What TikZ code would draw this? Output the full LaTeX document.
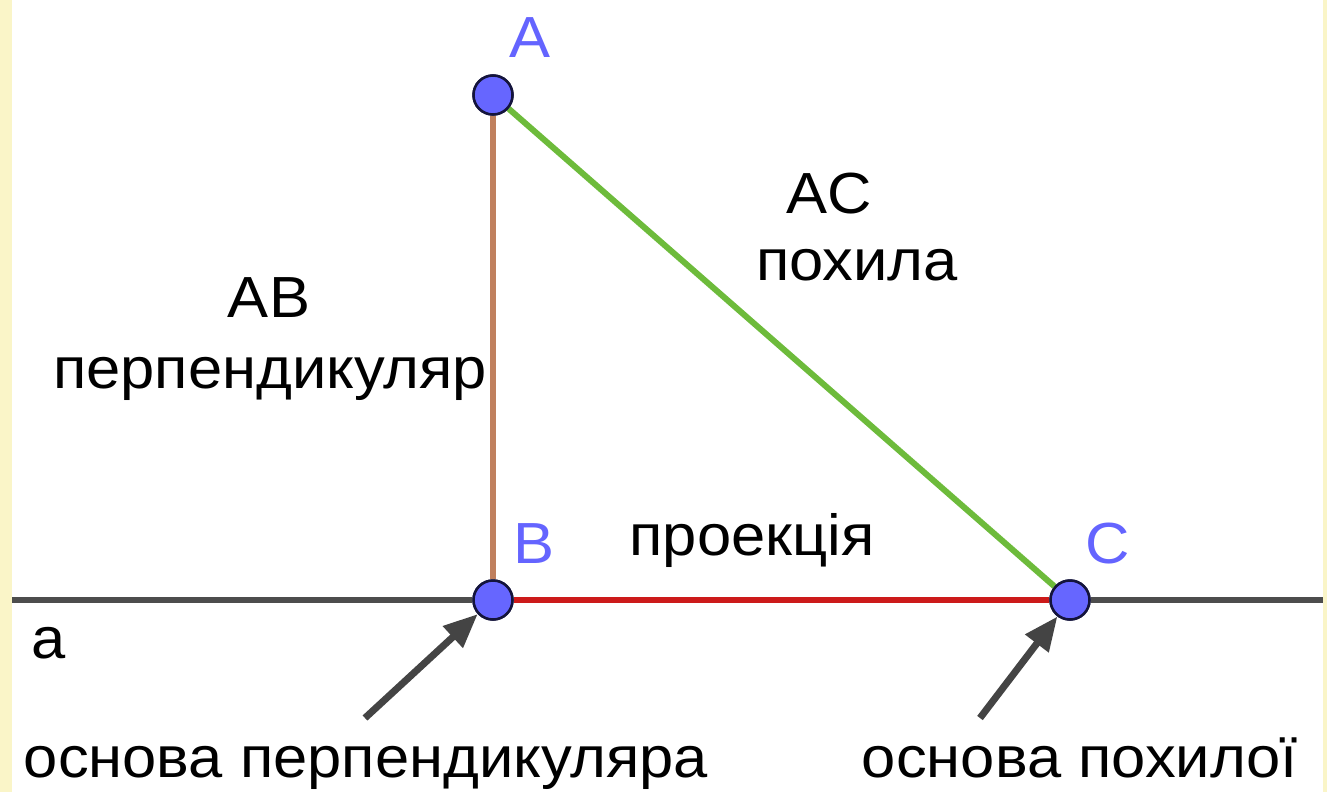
\documentclass[tikz,border=0pt]{standalone}
\usepackage{fontspec}
\setmainfont[FakeStretch=1.06]{Liberation Sans}
\usetikzlibrary{arrows.meta}
\definecolor{ptfill}{RGB}{102,102,255}
\definecolor{ptedge}{RGB}{20,20,60}
\definecolor{lblue}{RGB}{100,100,255}
\definecolor{segbrown}{RGB}{192,128,94}
\definecolor{seggreen}{RGB}{109,187,59}
\definecolor{segred}{RGB}{204,26,26}
\definecolor{linegray}{RGB}{77,77,77}
\definecolor{arrgray}{RGB}{68,68,68}
\definecolor{edgeyellow}{RGB}{250,245,200}
\begin{document}
\begin{tikzpicture}[x=1pt,y=-1pt,
  pt/.style={circle,fill=ptfill,draw=ptedge,line width=2.5pt,minimum size=39pt,inner sep=0pt},
  ptlbl/.style={text=lblue,font=\fontsize{58}{64}\selectfont,inner sep=0pt,anchor=base},
  txt/.style={text=black,font=\fontsize{58}{64}\selectfont,inner sep=0pt,anchor=base},
  seg/.style={line width=6pt},
  pointer/.style={arrgray,line width=7pt,-{Triangle[length=34pt,width=28pt]}}]
\useasboundingbox (0,0) rectangle (1327,792);
\fill[white] (0,0) rectangle (1327,792);
\fill[edgeyellow] (0,0) rectangle (12,792);
\fill[edgeyellow] (1323,0) rectangle (1327,792);
% points
\coordinate (a1) at (12,600);
\coordinate (a2) at (1323,600);
\node[pt] (A) at (493,95) {};
\node[pt] (B) at (493,600) {};
\node[pt] (C) at (1070,600) {};
% line a
\draw[linegray,line width=6pt] (a1) -- (B);
\draw[linegray,line width=6pt] (C) -- (a2);
% segments
\draw[seg,segbrown] (A) -- (B);
\draw[seg,seggreen] (A) -- (C);
\draw[seg,segred] (B) -- (C);
\node[pt] at (A) {};
% labels
\node[ptlbl] (lA) at (530,58) {A};
\node[ptlbl] (lB) at (534,563) {B};
\node[ptlbl] (lC) at (1108,563) {C};
\node[txt] (tAC) at (829,213) {AC};
\node[txt] (tpoh) at (857,280) {похила};
\node[txt] (tAB) at (269,317) {AB};
\node[txt] (tperp) at (270,388) {перпендикуляр};
\node[txt] (tproj) at (752,555) {проекція};
\node[txt] (ta) at (49,658) {a};
\node[txt] (tbase1) at (366,777) {основа перпендикуляра};
\node[txt] (tbase2) at (1080,777) {основа похилої};
% pointers
\coordinate (p1) at (365,718);
\coordinate (p2) at (980,718);
\draw[pointer] (p1) -- (B);
\draw[pointer] (p2) -- (C);
\node[pt] at (B) {};
\node[pt] at (C) {};
\end{tikzpicture}
\end{document}
